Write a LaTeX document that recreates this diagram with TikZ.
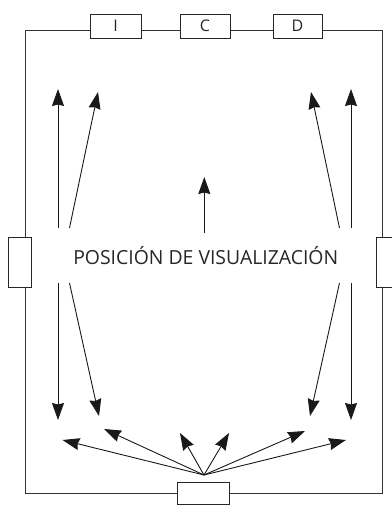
\documentclass[tikz,border=0pt]{standalone}
\usepackage{fontspec}
\setmainfont{Open Sans}
\usetikzlibrary{arrows.meta}
\begin{document}
\begin{tikzpicture}[x=1pt,y=-1pt,
  frame/.style={draw=black!80, line width=1pt},
  port/.style={draw=black!85, line width=1pt, fill=white, inner sep=0pt, outer sep=0pt,
    font=\fontsize{16}{16}\selectfont, text=black!85},
  arr/.style={draw=black!90, line width=0.9pt, -{Stealth[length=17pt,width=12pt,inset=1.5pt]}},
]
\useasboundingbox (0,0) rectangle (391,508);
\draw[frame] (25,31) rectangle (382.5,493);
% ports
\node[port, minimum width=51pt, minimum height=24pt] (pI) at (115.5,26.2) {I};
\node[port, minimum width=50pt, minimum height=24pt] (pC) at (205,26.2) {C};
\node[port, minimum width=49pt, minimum height=24pt] (pD) at (297.5,26.2) {D};
\node[port, minimum width=22.7pt, minimum height=50pt] (pL) at (20.3,262.3) {};
\node[port, minimum width=22.7pt, minimum height=50pt] (pR) at (388,262.3) {};
\node[port, minimum width=51.3pt, minimum height=22pt] (pB) at (203.4,493.3) {};
% label
\node[font=\fontsize{19.4}{20}\selectfont, text=black!85, inner sep=0pt, anchor=base] (pos) at (205.7,264.5) {POSICIÓN DE VISUALIZACIÓN};
% coordinates
\coordinate (a1s) at (58,228);   \coordinate (a1e) at (58,89);
\coordinate (a2s) at (69.5,228); \coordinate (a2e) at (98,92);
\coordinate (a3s) at (58,283);   \coordinate (a3e) at (58,420);
\coordinate (a4s) at (69.5,283); \coordinate (a4e) at (99,416);
\coordinate (b1s) at (351,228);  \coordinate (b1e) at (351,89);
\coordinate (b2s) at (339.5,228);\coordinate (b2e) at (311,92);
\coordinate (b3s) at (351,283);  \coordinate (b3e) at (351,420);
\coordinate (b4s) at (339.5,283);\coordinate (b4e) at (310,416);
\coordinate (cs) at (204.3,233); \coordinate (ce) at (204.3,177);
\coordinate (o) at (204,475);
\coordinate (f1) at (62.5,440);
\coordinate (f2) at (104,429);
\coordinate (f3) at (180,433);
\coordinate (f4) at (229,433);
\coordinate (f5) at (305,431);
\coordinate (f6) at (346,440);
% arrows
\foreach \s/\e in {a1s/a1e,a2s/a2e,a3s/a3e,a4s/a4e,b1s/b1e,b2s/b2e,b3s/b3e,b4s/b4e,cs/ce}
  \draw[arr] (\s) -- (\e);
\foreach \e in {f1,f2,f3,f4,f5,f6}
  \draw[arr] (o) -- (\e);
\end{tikzpicture}
\end{document}
